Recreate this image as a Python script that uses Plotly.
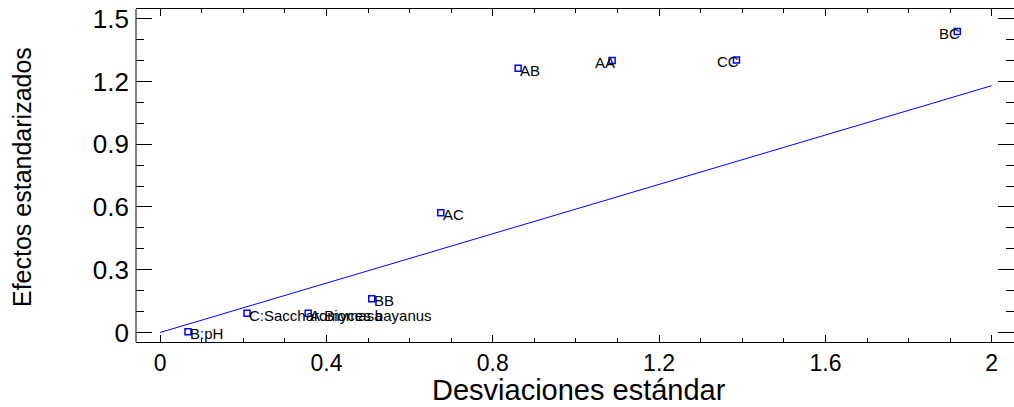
import plotly.graph_objects as go

# Data
labels = ["B:pH", "C:Saccharomyces bayanus", "A:Biomasa", "BB", "AC", "AB", "AA", "CC", "BC"]
desv = [0.067, 0.209, 0.356, 0.509, 0.675, 0.861, 1.087, 1.386, 1.917]
efectos = [0.004, 0.092, 0.092, 0.161, 0.573, 1.263, 1.300, 1.303, 1.439]
label_side = ["right", "right", "right", "right", "right", "right", "left", "left", "left"]

line_x = [0, 2]
line_y = [0, 1.18]

x_ticks = [0, 0.4, 0.8, 1.2, 1.6, 2]
x_ticktext = ["0", "0.4", "0.8", "1.2", "1.6", "2"]
y_ticks = [0, 0.3, 0.6, 0.9, 1.2, 1.5]
y_ticktext = ["0", "0.3", "0.6", "0.9", "1.2", "1.5"]

FONT = "Arial, Liberation Sans, sans-serif"

fig = go.Figure()
fig.add_trace(go.Scatter(x=line_x, y=line_y, mode="lines",
                         line=dict(color="#0000ff", width=1), hoverinfo="skip",
                         showlegend=False))
fig.add_trace(go.Scatter(x=desv, y=efectos, mode="markers",
                         marker=dict(symbol="square-open", size=6, color="#0000ff",
                                     line=dict(width=1.5, color="#0000ff")),
                         text=labels, showlegend=False))

annotations = []
for lab, xv, yv, side in zip(labels, desv, efectos, label_side):
    annotations.append(dict(
        x=xv, y=yv, xref="x", yref="y", text=lab, showarrow=False,
        xanchor="left" if side == "right" else "right", yanchor="middle",
        xshift=0 if side == "right" else 5, yshift=-2,
        font=dict(family=FONT, size=15, color="black")))

annotations.append(dict(x=0.5046, y=0, xref="paper", yref="paper",
                        text="Desviaciones estándar", showarrow=False,
                        xanchor="center", yanchor="middle", yshift=-48,
                        font=dict(family=FONT, size=29, color="black")))
annotations.append(dict(x=-0.1298, y=0.4955, xref="paper", yref="paper",
                        text="Efectos estandarizados", showarrow=False, textangle=-90,
                        xanchor="center", yanchor="middle",
                        font=dict(family=FONT, size=25, color="black")))

fig.update_layout(
    width=1014, height=407,
    margin=dict(l=136, r=0, t=9, b=65),
    paper_bgcolor="white", plot_bgcolor="white",
    annotations=annotations,
    shapes=[
        dict(type="line", xref="paper", yref="paper", x0=0, x1=0, y0=0, y1=1,
             line=dict(color="black", width=1)),
    ],
    xaxis=dict(range=[-0.058, 2.0535], tickvals=x_ticks, ticktext=x_ticktext,
               showgrid=False, zeroline=False, showline=True, linecolor="black",
               linewidth=1, mirror="ticks", ticks="inside", ticklen=7,
               tickcolor="black", tickwidth=1,
               minor=dict(dtick=0.1, ticks="inside", ticklen=4, tickcolor="black",
                          showgrid=False),
               tickfont=dict(family=FONT, size=23, color="black"),
               ticklabelstandoff=0),
    yaxis=dict(range=[-0.0455, 1.5465], tickvals=y_ticks, ticktext=y_ticktext,
               showgrid=False, zeroline=False, showline=False,
               mirror="ticks", ticks="inside", ticklen=16,
               tickcolor="black", tickwidth=1,
               minor=dict(dtick=0.1, tick0=0, ticks="inside", ticklen=8,
                          tickcolor="black", showgrid=False),
               tickfont=dict(family=FONT, size=26, color="black"),
               ticklabelstandoff=6),
)

fig.write_html("out.html")
